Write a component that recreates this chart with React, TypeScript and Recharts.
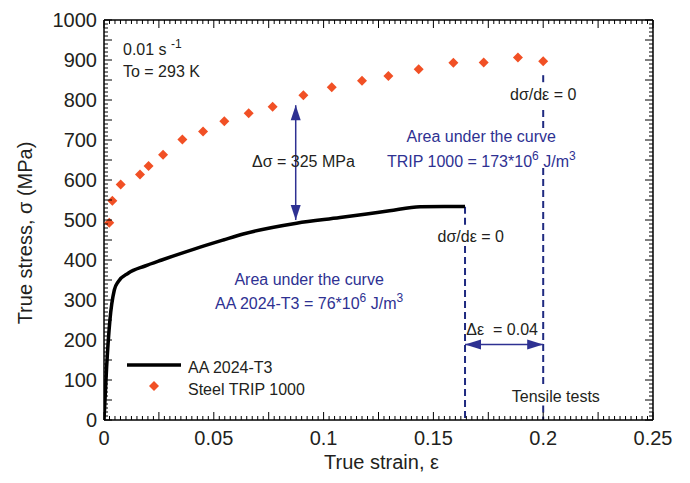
import React from 'react';
import { ComposedChart, Line, Scatter, XAxis, YAxis, ReferenceLine, ReferenceDot, Legend } from 'recharts';

// ---- data ----
const aaStrain = [0, 0.0012, 0.0027, 0.0047, 0.0065, 0.011, 0.0187, 0.0263, 0.0414, 0.0543, 0.0634, 0.0877, 0.1075, 0.1196, 0.13, 0.144, 0.155, 0.1644];
const aaStress = [0, 133, 250, 325, 346, 367, 385, 400, 428, 450, 465, 492, 506, 515, 523, 533, 534, 534];

const tripStrain = [0.0024, 0.0038, 0.0076, 0.0164, 0.0203, 0.0269, 0.0357, 0.0451, 0.0548, 0.0659, 0.0768, 0.0908, 0.1037, 0.1175, 0.1295, 0.1433, 0.1591, 0.1729, 0.1885, 0.2];
const tripStress = [493, 548, 589, 614, 635, 663, 701, 721, 747, 767, 783, 812, 832, 848, 860, 877, 893, 894, 906, 897];

const xMajorTicks = [0, 0.05, 0.1, 0.15, 0.2, 0.25];
const xTickLabels = ['0', '0.05', '0.1', '0.15', '0.2', '0.25'];
const yMajorTicks = [0, 100, 200, 300, 400, 500, 600, 700, 800, 900, 1000];
const yTickLabels = ['0', '100', '200', '300', '400', '500', '600', '700', '800', '900', '1000'];

const aaData = aaStrain.map((s, i) => ({ strain: s, stress: aaStress[i] }));
const tripData = tripStrain.map((s, i) => ({ strain: s, stress: tripStress[i] }));

// minor tick grids
const xTicks: number[] = [];
for (let k = 0; k <= 100; k++) xTicks.push(+(k * 0.0025).toFixed(4));
const yTicks: number[] = [];
for (let k = 0; k <= 100; k++) yTicks.push(k * 10);

// ---- style ----
const FONT = '"Liberation Sans", Arial, Helvetica, sans-serif';
const INK = '#231f20';
const BLUE = '#2e3192';
const DASH = '#1f2a80';
const ORANGE = '#f15025';

const W = 674;
const H = 467;
// plot area: left 96, top 12, right 645, bottom 412 (svg coords)
const margin = { top: 11, right: 28, bottom: 0, left: 0 };

const near = (v: number, step: number) => Math.abs(v / step - Math.round(v / step)) < 1e-6;
const xLabel = (v: number) => {
  const i = xMajorTicks.findIndex((t) => Math.abs(t - v) < 1e-6);
  return i >= 0 ? xTickLabels[i] : null;
};
const yLabel = (v: number) => {
  const i = yMajorTicks.findIndex((t) => Math.abs(t - v) < 1e-6);
  return i >= 0 ? yTickLabels[i] : null;
};

const BottomTick = (p: any) => {
  const v = p.payload.value;
  const len = near(v, 0.025) ? 8 : 4;
  const lab = xLabel(v);
  return (
    <g>
      <line x1={p.x} x2={p.x} y1={p.y} y2={p.y - len} stroke="#000" strokeWidth={1} />
      {lab !== null && (
        <text x={p.x} y={p.y + 25} textAnchor="middle" fontSize={20} fill={INK} fontFamily={FONT}>{lab}</text>
      )}
    </g>
  );
};
const TopTick = (p: any) => {
  const v = p.payload.value;
  const len = near(v, 0.025) ? 8 : 4;
  return <line x1={p.x} x2={p.x} y1={p.y} y2={p.y + len} stroke="#000" strokeWidth={1} />;
};
const LeftTick = (p: any) => {
  const v = p.payload.value;
  const len = near(v, 50) ? 8 : 4;
  const lab = yLabel(v);
  return (
    <g>
      <line x1={p.x} x2={p.x + len} y1={p.y} y2={p.y} stroke="#000" strokeWidth={1} />
      {lab !== null && (
        <text x={p.x - 7} y={p.y} dy="0.36em" textAnchor="end" fontSize={20} fill={INK} fontFamily={FONT}>{lab}</text>
      )}
    </g>
  );
};
const RightTick = (p: any) => {
  const v = p.payload.value;
  const len = near(v, 50) ? 8 : 4;
  return <line x1={p.x} x2={p.x - len} y1={p.y} y2={p.y} stroke="#000" strokeWidth={1} />;
};

const diamond = (p: any) => {
  const { cx, cy } = p;
  const r = 5;
  return <polygon points={`${cx},${cy - r} ${cx + r},${cy} ${cx},${cy + r} ${cx - r},${cy}`} fill={ORANGE} />;
};

const arrowShape = (headLen: number, headW: number) => (p: any) => {
  const { x1, y1, x2, y2 } = p;
  const dx = x2 - x1;
  const dy = y2 - y1;
  const L = Math.hypot(dx, dy) || 1;
  const ux = dx / L;
  const uy = dy / L;
  const nx = -uy;
  const ny = ux;
  const head = (tx: number, ty: number, dir: number) => {
    const bx = tx - dir * ux * headLen;
    const by = ty - dir * uy * headLen;
    return `${tx},${ty} ${bx + (nx * headW) / 2},${by + (ny * headW) / 2} ${bx - (nx * headW) / 2},${by - (ny * headW) / 2}`;
  };
  return (
    <g>
      <line x1={x1} y1={y1} x2={x2} y2={y2} stroke={BLUE} strokeWidth={1.5} />
      <polygon points={head(x1, y1, -1)} fill={BLUE} />
      <polygon points={head(x2, y2, 1)} fill={BLUE} />
    </g>
  );
};

type Note = { x: number; y: number; anchor: 'start' | 'middle' | 'end'; color: string; parts: { t: string; sup?: boolean }[] };

const notes: Note[] = [
  { x: 0.00865, y: 912, anchor: 'start', color: INK, parts: [{ t: '0.01 s ' }, { t: '-1', sup: true }] },
  { x: 0.00865, y: 857, anchor: 'start', color: INK, parts: [{ t: 'To = 293 K' }] },
  { x: 0.0674, y: 632, anchor: 'start', color: INK, parts: [{ t: '\u0394\u03c3 = 325 MPa' }] },
  { x: 0.2, y: 800, anchor: 'middle', color: INK, parts: [{ t: 'd\u03c3/d\u03b5 = 0' }] },
  { x: 0.1718, y: 696, anchor: 'middle', color: BLUE, parts: [{ t: 'Area under the curve' }] },
  { x: 0.1718, y: 633, anchor: 'middle', color: BLUE, parts: [{ t: 'TRIP 1000 = 173*10' }, { t: '6', sup: true }, { t: ' J/m' }, { t: '3', sup: true }] },
  { x: 0.167, y: 445, anchor: 'middle', color: INK, parts: [{ t: 'd\u03c3/d\u03b5 = 0' }] },
  { x: 0.0934, y: 337, anchor: 'middle', color: BLUE, parts: [{ t: 'Area under the curve' }] },
  { x: 0.0934, y: 277, anchor: 'middle', color: BLUE, parts: [{ t: 'AA 2024-T3 = 76*10' }, { t: '6', sup: true }, { t: ' J/m' }, { t: '3', sup: true }] },
  { x: 0.165, y: 212, anchor: 'start', color: INK, parts: [{ t: '\u0394\u03b5  = 0.04' }] },
  { x: 0.1857, y: 46, anchor: 'start', color: INK, parts: [{ t: 'Tensile tests' }] },
];

const noteShape = (n: Note) => (p: any) => {
  let prevSup = false;
  return (
    <text x={p.cx} y={p.cy} textAnchor={n.anchor} fontSize={16} fill={n.color} fontFamily={FONT} style={{ whiteSpace: 'pre' }} xmlSpace="preserve">
      {n.parts.map((part, i) => {
        let dy = 0;
        if (part.sup && !prevSup) dy = -7;
        if (!part.sup && prevSup) dy = 7;
        prevSup = !!part.sup;
        return (
          <tspan key={i} dy={dy} fontSize={part.sup ? 12 : 16}>{part.t}</tspan>
        );
      })}
    </text>
  );
};

const dashSegments: [number, number, number][] = [
  [0.1644, 533, 485],
  [0.1644, 435, 0],
  [0.2, 862, 835],
  [0.2, 775, 730],
  [0.2, 630, 80],
  [0.2, 36, 0],
];

const LegendBox = () => (
  <svg width={200} height={60} style={{ display: 'block', overflow: 'visible' }}>
    <line x1={2} x2={56} y1={15} y2={15} stroke="#000" strokeWidth={3.5} />
    <text x={63} y={22.5} fontSize={16} fill={INK} fontFamily={FONT}>AA 2024-T3</text>
    <polygon points="29,31 34,36 29,41 24,36" fill={ORANGE} />
    <text x={63} y={45} fontSize={16} fill={INK} fontFamily={FONT}>Steel TRIP 1000</text>
  </svg>
);

export default function App() {
  return (
    <div style={{ width: W, height: H, fontFamily: FONT }}>
      <ComposedChart width={W} height={H} margin={margin}>
        <XAxis
          xAxisId="b"
          type="number"
          dataKey="strain"
          domain={[0, 0.25]}
          ticks={xTicks}
          interval={0}
          height={55}
          tickSize={0}
          tickMargin={0}
          tickLine={false}
          axisLine={{ stroke: '#000', strokeWidth: 1.5 }}
          tick={(p: any) => <BottomTick {...p} />}
          allowDataOverflow
          label={{
            content: (lp: any) => {
              const vb = lp.viewBox || {};
              return (
                <text x={vb.x + vb.width / 2 + 3} y={vb.y + 49} textAnchor="middle" fontSize={20} fill={INK} fontFamily={FONT}>
                  True strain, {'\u03b5'}
                </text>
              );
            },
          }}
        />
        <XAxis
          xAxisId="t"
          orientation="top"
          type="number"
          dataKey="strain"
          domain={[0, 0.25]}
          ticks={xTicks}
          interval={0}
          height={1}
          tickSize={0}
          tickMargin={0}
          tickLine={false}
          axisLine={{ stroke: '#000', strokeWidth: 1.5 }}
          tick={(p: any) => <TopTick {...p} />}
          allowDataOverflow
        />
        <YAxis
          yAxisId="l"
          type="number"
          dataKey="stress"
          domain={[0, 1000]}
          ticks={yTicks}
          interval={0}
          width={96}
          tickSize={0}
          tickMargin={0}
          tickLine={false}
          axisLine={{ stroke: '#000', strokeWidth: 1.5 }}
          tick={(p: any) => <LeftTick {...p} />}
          allowDataOverflow
          label={{
            content: (lp: any) => {
              const vb = lp.viewBox || {};
              const cy = vb.y + vb.height / 2 + 13;
              const cx = 24;
              return (
                <text x={cx} y={cy} transform={`rotate(-90, ${cx}, ${cy})`} textAnchor="middle" fontSize={20} fill={INK} fontFamily={FONT}>
                  True stress, {'\u03c3'} (MPa)
                </text>
              );
            },
          }}
        />
        <YAxis
          yAxisId="r"
          orientation="right"
          type="number"
          dataKey="stress"
          domain={[0, 1000]}
          ticks={yTicks}
          interval={0}
          width={1}
          tickSize={0}
          tickMargin={0}
          tickLine={false}
          axisLine={{ stroke: '#000', strokeWidth: 1.5 }}
          tick={(p: any) => <RightTick {...p} />}
          allowDataOverflow
        />

        {dashSegments.map(([x, y1, y2], i) => (
          <ReferenceLine
            key={'d' + i}
            xAxisId="b"
            yAxisId="l"
            segment={[{ x, y: y1 }, { x, y: y2 }]}
            stroke={DASH}
            strokeWidth={2}
            strokeDasharray="7 4"
            ifOverflow="visible"
          />
        ))}

        <ReferenceLine
          xAxisId="b"
          yAxisId="l"
          segment={[{ x: 0.0873, y: 787 }, { x: 0.0873, y: 500 }]}
          shape={arrowShape(15, 10)}
          ifOverflow="visible"
        />
        <ReferenceLine
          xAxisId="b"
          yAxisId="l"
          segment={[{ x: 0.1644, y: 189 }, { x: 0.2, y: 189 }]}
          shape={arrowShape(16, 10)}
          ifOverflow="visible"
        />

        <Line
          xAxisId="b"
          yAxisId="l"
          name="AA 2024-T3"
          data={aaData}
          dataKey="stress"
          type="monotone"
          stroke="#000"
          strokeWidth={3.5}
          dot={false}
          activeDot={false}
          isAnimationActive={false}
        />
        <Scatter
          xAxisId="b"
          yAxisId="l"
          name="Steel TRIP 1000"
          data={tripData}
          dataKey="stress"
          fill={ORANGE}
          shape={diamond}
          isAnimationActive={false}
        />

        {notes.map((n, i) => (
          <ReferenceDot key={'n' + i} xAxisId="b" yAxisId="l" x={n.x} y={n.y} r={0} shape={noteShape(n)} ifOverflow="visible" />
        ))}

        <Legend
          layout="vertical"
          align="center"
          verticalAlign="middle"
          wrapperStyle={{ left: 117, top: 342, width: 200, height: 60 }}
          content={() => <LegendBox />}
        />
      </ComposedChart>
    </div>
  );
}
